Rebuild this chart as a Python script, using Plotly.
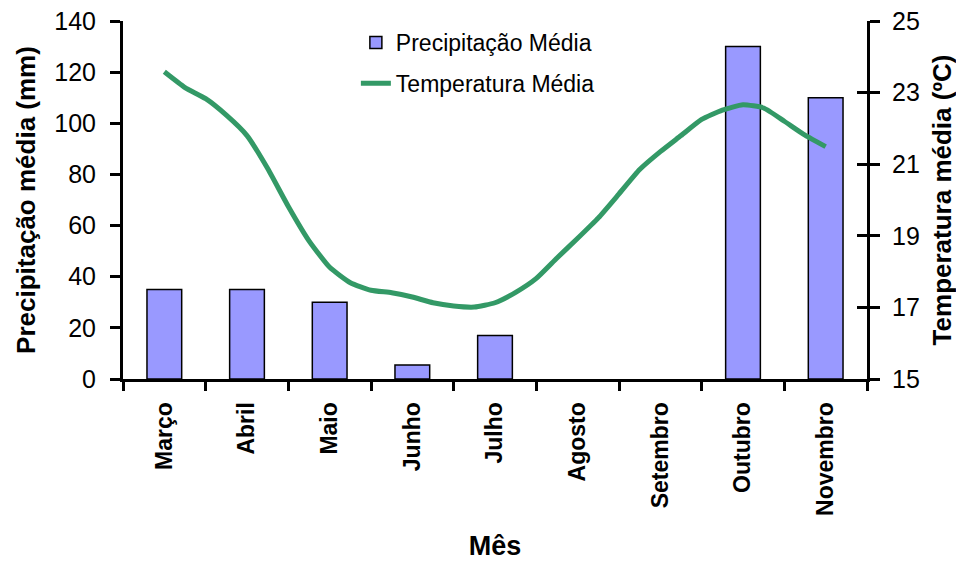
import plotly.graph_objects as go

# ---- data ----
months = ["Março", "Abril", "Maio", "Junho", "Julho", "Agosto", "Setembro", "Outubro", "Novembro"]
precip_mm = [35, 35, 30, 5.5, 17, None, None, 130, 110]

# temperature readings (quarter-month steps, position in month units from March)
temp_pos = [0, 0.25, 0.5, 0.75, 1, 1.25, 1.5, 1.75, 2, 2.25, 2.5, 2.75, 3, 3.25, 3.5, 3.75,
            4, 4.25, 4.5, 4.75, 5, 5.25, 5.5, 5.75, 6, 6.25, 6.5, 6.75, 7, 7.25, 7.5, 7.75, 8]
temp_c = [23.58, 23.14, 22.83, 22.37, 21.80, 20.88, 19.82, 18.86, 18.12, 17.69, 17.48, 17.41,
          17.29, 17.13, 17.04, 17.01, 17.13, 17.42, 17.81, 18.38, 18.93, 19.50, 20.17, 20.85,
          21.35, 21.80, 22.25, 22.51, 22.66, 22.57, 22.20, 21.81, 21.49]

y_left_ticks = [0, 20, 40, 60, 80, 100, 120, 140]
y_right_ticks = [15, 17, 19, 21, 23, 25]

FONT = "Liberation Sans, Arial, sans-serif"
BAR_FILL = "#9999FF"
LINE_COL = "#339966"

fig = go.Figure()
fig.add_trace(go.Bar(
    x=months, y=precip_mm, name="Precipitação Média",
    marker=dict(color=BAR_FILL, line=dict(color="black", width=1.5)),
    xaxis="x", yaxis="y", legendgroup="a",
))
fig.add_trace(go.Scatter(
    x=temp_pos, y=temp_c, name="Temperatura Média", mode="lines",
    line=dict(color=LINE_COL, width=5, shape="spline", smoothing=0.5),
    xaxis="x2", yaxis="y2", legendgroup="b",
))
# invisible helper for crossing ticks on the right axis
fig.add_trace(go.Scatter(x=[None], y=[None], xaxis="x2", yaxis="y3", showlegend=False))

axis_common = dict(showgrid=False, zeroline=False, showline=True, linecolor="black",
                   linewidth=3, tickcolor="black", tickwidth=3, automargin=False,
                   ticklabeloverflow="allow")

fig.update_layout(
    width=956, height=553,
    margin=dict(l=115, r=97, t=13, b=182),
    paper_bgcolor="white", plot_bgcolor="white",
    font=dict(family=FONT, color="black"),
    bargap=0.58,
    showlegend=True,
    legend=dict(x=0.313, y=1.0, xanchor="left", yanchor="top",
                font=dict(size=23, family=FONT), bgcolor="rgba(0,0,0,0)",
                traceorder="grouped", tracegroupgap=8),
    xaxis=dict(type="category", range=[-0.5, 8.5], tickson="boundaries",
               ticks="outside", ticklen=9, tickangle=-90,
               tickfont=dict(size=23, family=FONT, weight="bold"),
               ticklabelstandoff=11,
               title=dict(text="<b>Mês</b>", font=dict(size=27), standoff=25),
               **axis_common),
    xaxis2=dict(overlaying="x", range=[-0.5, 8.5], visible=False, anchor="y"),
    yaxis=dict(range=[0, 140], tickvals=y_left_ticks, ticks="outside", ticklen=10,
               tickfont=dict(size=25), ticklabelstandoff=9,
               title=dict(text="<b>Precipitação média (mm)</b>", font=dict(size=26), standoff=12),
               **axis_common),
    yaxis2=dict(overlaying="y", side="right", anchor="x", range=[15, 25],
                tickvals=y_right_ticks, ticks="outside", ticklen=10,
                tickfont=dict(size=25), ticklabelstandoff=7,
                title=dict(text="<b>Temperatura média (ºC)</b>", font=dict(size=26), standoff=14),
                **axis_common),
    yaxis3=dict(overlaying="y", side="right", anchor="x", range=[15, 25],
                tickvals=y_right_ticks, ticks="inside", ticklen=10, showticklabels=False,
                **axis_common),
)

fig.write_html("out.html")
